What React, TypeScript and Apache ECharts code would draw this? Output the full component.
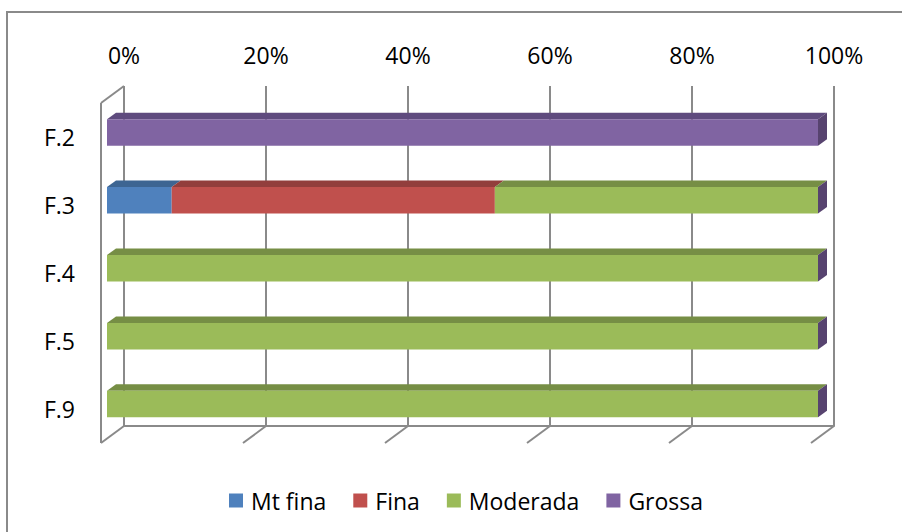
import React, { useEffect, useRef } from 'react';
import * as echarts from 'echarts';

const categories = ['F.2', 'F.3', 'F.4', 'F.5', 'F.9'];
const seriesNames = ['Mt fina', 'Fina', 'Moderada', 'Grossa'];
const mtFina = [0, 9.1, 0, 0, 0];
const fina = [0, 45.45, 0, 0, 0];
const moderada = [0, 45.45, 100, 100, 100];
const grossa = [100, 0, 0, 0, 0];
const tickValues = [0, 20, 40, 60, 80, 100];

const colors = ['#4F81BD', '#C0504D', '#9BBB59', '#8064A2'];
const topColors = ['#3D6592', '#923E3C', '#768E45', '#5F4B7E'];
const sideColor = '#57436F';
const gridColor = '#8a8a8a';
const FONT = 'Open Sans';

const BAR_DX = 9;
const BAR_DY = 6.5;
const FLOOR_DX = 23;
const FLOOR_DY = 17;

export default function App() {
  const ref = useRef<HTMLDivElement>(null);

  useEffect(() => {
    if (!ref.current) return;
    const chart = echarts.init(ref.current, undefined, { renderer: 'svg' });

    const valueSets = [mtFina, fina, moderada, grossa];
    const starts = categories.map(() => 0);
    const barSeries = valueSets.map((vals, si) => {
      const data = vals.map((v, ci) => {
        const s = starts[ci];
        const e = s + v;
        starts[ci] = e;
        return [ci, s, e];
      });
      return {
        type: 'custom',
        name: seriesNames[si],
        xAxisIndex: 1,
        yAxisIndex: 1,
        z: 5,
        itemStyle: { color: colors[si] },
        encode: { x: [1, 2], y: 0 },
        data,
        renderItem: (params: any, api: any) => {
          const cat = api.value(0);
          const s = api.value(1);
          const e = api.value(2);
          if (e - s <= 0.0001) return null;
          const p0 = api.coord([s, cat]);
          const p1 = api.coord([e, cat]);
          const band = api.size([0, 1])[1];
          const h = band * 0.39;
          const top = p0[1] - h / 2;
          const bot = p0[1] + h / 2;
          const x0 = p0[0];
          const x1 = p1[0];
          const children: any[] = [
            {
              type: 'polygon',
              shape: { points: [[x0, top], [x1, top], [x1 + BAR_DX, top - BAR_DY], [x0 + BAR_DX, top - BAR_DY]] },
              style: { fill: topColors[si] },
            },
            {
              type: 'rect',
              shape: { x: x0, y: top, width: x1 - x0, height: h },
              style: { fill: colors[si] },
            },
          ];
          if (e >= 99.99) {
            children.push({
              type: 'polygon',
              shape: { points: [[x1, top], [x1 + BAR_DX, top - BAR_DY], [x1 + BAR_DX, bot - BAR_DY], [x1, bot]] },
              style: { fill: sideColor },
            });
          }
          return { type: 'group', children };
        },
      };
    });

    const floorSeries = {
      type: 'custom',
      xAxisIndex: 0,
      yAxisIndex: 0,
      z: 1,
      silent: true,
      encode: { x: 0 },
      data: tickValues.map((v) => [v]),
      renderItem: (params: any, api: any) => {
        const v = api.value(0);
        const pb = api.coord([v, 0]);
        const pt = api.coord([v, 1]);
        const st = { stroke: gridColor, lineWidth: 2, fill: 'none' };
        const children: any[] = [
          { type: 'line', shape: { x1: pb[0], y1: pb[1], x2: pb[0] - FLOOR_DX, y2: pb[1] + FLOOR_DY }, style: st },
        ];
        if (v === 0) {
          children.push({ type: 'line', shape: { x1: pt[0], y1: pt[1], x2: pt[0] - FLOOR_DX, y2: pt[1] + FLOOR_DY }, style: st });
          children.push({ type: 'line', shape: { x1: pt[0] - FLOOR_DX, y1: pt[1] + FLOOR_DY, x2: pb[0] - FLOOR_DX, y2: pb[1] + FLOOR_DY }, style: st });
        }
        return { type: 'group', children };
      },
    };

    chart.setOption({
      animation: false,
      backgroundColor: '#ffffff',
      textStyle: { fontFamily: FONT },
      grid: [
        { left: 124, right: 68, top: 86, bottom: 106 },
        { left: 107, right: 84, top: 98.5, bottom: 94 },
        { left: 101, right: 91, top: 103, bottom: 89 },
      ],
      xAxis: [
        {
          gridIndex: 0,
          type: 'value',
          min: 0,
          max: 100,
          interval: 20,
          position: 'top',
          axisLine: { show: true, lineStyle: { color: gridColor, width: 2 } },
          axisTick: { show: false },
          axisLabel: { formatter: '{value}%', fontSize: 23, fontFamily: FONT, color: '#000', margin: 20 },
          splitLine: { show: true, lineStyle: { color: gridColor, width: 2 } },
        },
        { gridIndex: 1, type: 'value', min: 0, max: 100, show: false },
        { gridIndex: 2, type: 'value', min: 0, max: 100, show: false },
      ],
      yAxis: [
        { gridIndex: 0, type: 'value', min: 0, max: 1, show: false },
        { gridIndex: 1, type: 'category', data: categories, inverse: true, show: false },
        {
          gridIndex: 2,
          type: 'category',
          data: categories,
          inverse: true,
          axisLine: { show: false },
          axisTick: { show: false },
          splitLine: { show: false },
          axisLabel: { fontSize: 23, fontFamily: FONT, color: '#000', margin: 26 },
        },
      ],
      legend: {
        data: seriesNames,
        left: 224,
        top: 484,
        icon: 'rect',
        itemWidth: 14,
        itemHeight: 14,
        itemGap: 27,
        textStyle: { fontSize: 23, fontFamily: FONT, color: '#000', padding: [0, 0, 0, 3] },
      },
      graphic: [
        {
          type: 'rect',
          silent: true,
          shape: { x: 7, y: 12, width: 1000, height: 1000 },
          style: { fill: 'none', stroke: gridColor, lineWidth: 2 },
          z: 0,
        },
      ],
      series: [floorSeries, ...barSeries],
    });

    return () => chart.dispose();
  }, []);

  return <div ref={ref} style={{ position: 'fixed', left: 0, top: 0, width: 902, height: 532 }} />;
}
